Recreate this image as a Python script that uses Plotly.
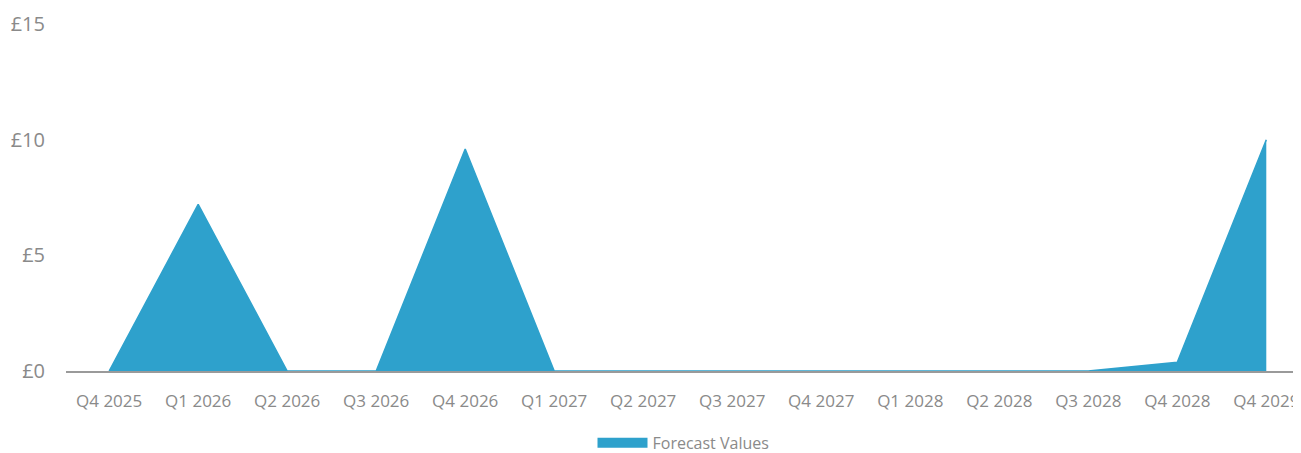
import plotly.graph_objects as go

categories = ["Q4 2025", "Q1 2026", "Q2 2026", "Q3 2026", "Q4 2026", "Q1 2027", "Q2 2027",
              "Q3 2027", "Q4 2027", "Q1 2028", "Q2 2028", "Q3 2028", "Q4 2028", "Q4 2029"]
forecast_values = [0, 7.2, 0, 0, 9.6, 0, 0, 0, 0, 0, 0, 0, 0.38, 10]
y_tick_vals = [0, 5, 10, 15]
y_tick_text = ["£0", "£5", "£10", "£15"]

AREA = "#2ea1cc"
GREY_TEXT = "#8a8a8a"

fig = go.Figure()
fig.add_trace(go.Scatter(
    x=categories, y=forecast_values, name="Forecast Values",
    mode="lines", fill="tozeroy", fillcolor=AREA,
    line=dict(color=AREA, width=1.5), showlegend=False,
))
# legend-only entry with a block swatch
fig.add_trace(go.Scatter(
    x=[None], y=[None], name="Forecast Values", mode="lines",
    line=dict(color=AREA, width=13), showlegend=True,
))

# page body has an 8px margin; figure is sized/offset to compensate
fig.update_layout(
    width=1293, height=445,
    margin=dict(l=58, r=0, t=16, b=82, autoexpand=False),
    paper_bgcolor="white", plot_bgcolor="white",
    font=dict(family="Open Sans", color=GREY_TEXT, size=16),
    showlegend=True,
    legend=dict(orientation="h", x=0.5, xanchor="center", y=-0.207, yanchor="middle",
                itemwidth=50, font=dict(size=16, color=GREY_TEXT)),
    xaxis=dict(type="category", range=[-0.485, 13.39], showgrid=False,
               showline=True, linecolor="#9a9a9a", linewidth=1.5, layer="below traces",
               ticks="", ticklabelstandoff=14,
               tickfont=dict(size=17, color=GREY_TEXT), automargin=False),
    yaxis=dict(range=[0, 15], tickvals=y_tick_vals, ticktext=y_tick_text,
               showgrid=False, zeroline=False, showline=False, ticks="",
               ticklabelstandoff=20, tickfont=dict(size=20, color=GREY_TEXT), automargin=False),
)

fig.write_html("out.html")
